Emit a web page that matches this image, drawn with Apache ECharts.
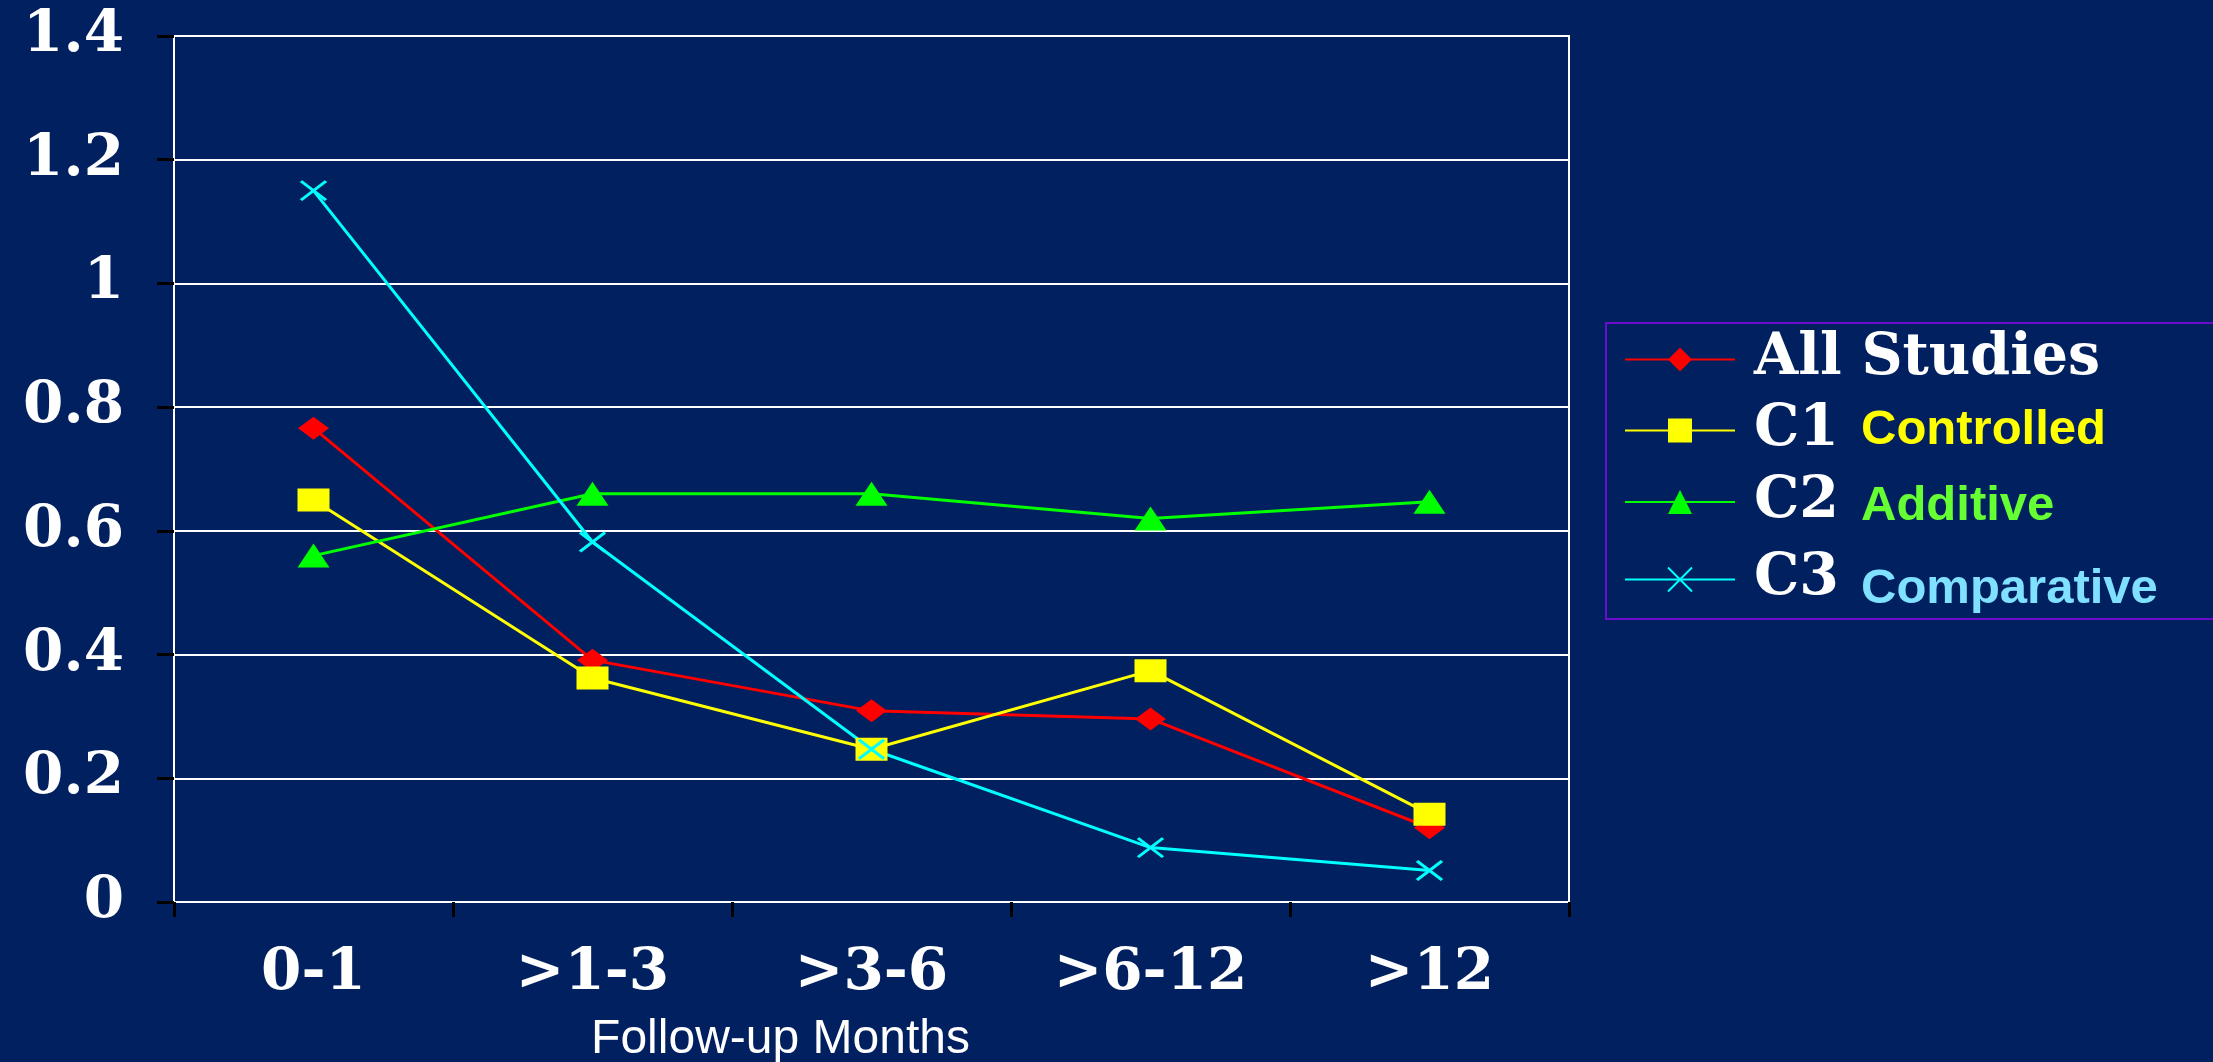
<!DOCTYPE html>
<html>
<head>
<meta charset="utf-8">
<script src="https://cdn.jsdelivr.net/npm/echarts@6/dist/echarts.min.js"></script>
<style>
  html, body { margin: 0; padding: 0; background: #00205F; overflow: hidden; }
  #chart { width: 2213px; height: 1062px; }
</style>
</head>
<body>
<div id="chart"></div>
<script>
// Follow-up period categories (x axis)
const categories = ['0-1', '>1-3', '>3-6', '>6-12', '>12'];

// Series values per follow-up period
const allStudies    = [0.766, 0.391, 0.309, 0.296, 0.12];
const c1Controlled  = [0.65, 0.362, 0.247, 0.374, 0.142];
const c2Additive    = [0.56, 0.66, 0.66, 0.62, 0.647];
const c3Comparative = [1.15, 0.582, 0.247, 0.088, 0.051];

// Legend names and their descriptive captions
const seriesNames = ['All Studies', 'C1', 'C2', 'C3'];
const seriesCaptions = ['', 'Controlled', 'Additive', 'Comparative'];

// Value axis range
const yMin = 0;
const yMax = 1.4;
const yStep = 0.2;

const axisTitle = 'Follow-up Months';

const BG = '#00205F';
const SERIF = '"DejaVu Serif", "Liberation Serif", serif';
const SANS = '"Liberation Sans", Arial, sans-serif';

const captionStyles = ['', 'ctrl', 'add', 'comp'];

const chart = echarts.init(document.getElementById('chart'), null, { renderer: 'canvas' });

// X-shaped marker for the comparative series (stroked, not filled)
const crossPath = 'path://M0,0L10,10M10,0L0,10';

const option = {
  backgroundColor: BG,
  animation: false,
  grid: {
    left: 174, right: 644, top: 36, bottom: 160,
    outerBoundsMode: 'none',
    containLabel: false,
    show: true, borderColor: '#FFFFFF', borderWidth: 2, backgroundColor: BG
  },
  legend: {
    orient: 'vertical',
    left: 1606, top: 323,
    itemWidth: 110, itemHeight: 30, itemGap: 14,
    padding: [8, 120, 5, 18],
    borderColor: '#6A0DCC', borderWidth: 2,
    selectedMode: false,
    data: seriesNames,
    formatter: function (name) {
      const i = seriesNames.indexOf(name);
      let s = '{code|' + name + '}';
      if (seriesCaptions[i]) s += '{' + captionStyles[i] + '|' + seriesCaptions[i] + '}';
      return s;
    },
    textStyle: {
      rich: {
        code: { fontFamily: SERIF, fontWeight: 'bold', fontSize: 57, color: '#FFFFFF', lineHeight: 60, padding: [0, 0, 0, 14] },
        ctrl: { fontFamily: SANS, fontWeight: 'bold', fontSize: 49, color: '#FFFF00', lineHeight: 60, padding: [0, 0, 0, 22] },
        add:  { fontFamily: SANS, fontWeight: 'bold', fontSize: 49, color: '#66FF33', lineHeight: 60, padding: [9, 0, 0, 22] },
        comp: { fontFamily: SANS, fontWeight: 'bold', fontSize: 49, color: '#80E0FF', lineHeight: 60, padding: [20, 0, 0, 22] }
      }
    }
  },
  xAxis: {
    type: 'category',
    data: categories,
    boundaryGap: true,
    axisLine: { show: true, lineStyle: { color: '#FFFFFF', width: 2 } },
    axisTick: { show: true, length: 15, lineStyle: { color: '#000000', width: 3 } },
    axisLabel: { color: '#FFFFFF', fontFamily: SERIF, fontWeight: 'bold', fontSize: 58, margin: 43 },
    name: axisTitle,
    nameLocation: 'middle',
    nameGap: 114,
    nameTextStyle: { color: '#FFFFFF', fontFamily: SANS, fontSize: 48, padding: [0, 182, 0, 0] },
    splitLine: { show: false }
  },
  yAxis: {
    type: 'value',
    min: yMin, max: yMax, interval: yStep,
    axisLine: { show: true, lineStyle: { color: '#FFFFFF', width: 2 } },
    axisTick: { show: true, length: 17, lineStyle: { color: '#000000', width: 3 } },
    axisLabel: { color: '#FFFFFF', fontFamily: SERIF, fontWeight: 'bold', fontSize: 58, margin: 50 },
    splitLine: { show: true, lineStyle: { color: '#FFFFFF', width: 2 } }
  },
  series: [
    {
      name: seriesNames[0], type: 'line', data: allStudies,
      symbol: 'diamond', symbolSize: [31, 23],
      lineStyle: { color: '#FF0000', width: 3 },
      itemStyle: { color: '#FF0000', borderWidth: 0 }
    },
    {
      name: seriesNames[1], type: 'line', data: c1Controlled,
      symbol: 'rect', symbolSize: [32, 23],
      lineStyle: { color: '#FFFF00', width: 3 },
      itemStyle: { color: '#FFFF00', borderWidth: 0 }
    },
    {
      name: seriesNames[2], type: 'line', data: c2Additive,
      symbol: 'triangle', symbolSize: [32, 24],
      lineStyle: { color: '#00FF00', width: 3 },
      itemStyle: { color: '#00FF00', borderWidth: 0 }
    },
    {
      name: seriesNames[3], type: 'line', data: c3Comparative,
      symbol: crossPath, symbolSize: [25, 19],
      lineStyle: { color: '#00FFFF', width: 3 },
      itemStyle: { color: '#00FFFF', borderColor: '#00FFFF', borderWidth: 3 }
    }
  ]
};

chart.setOption(option);
</script>
</body>
</html>
